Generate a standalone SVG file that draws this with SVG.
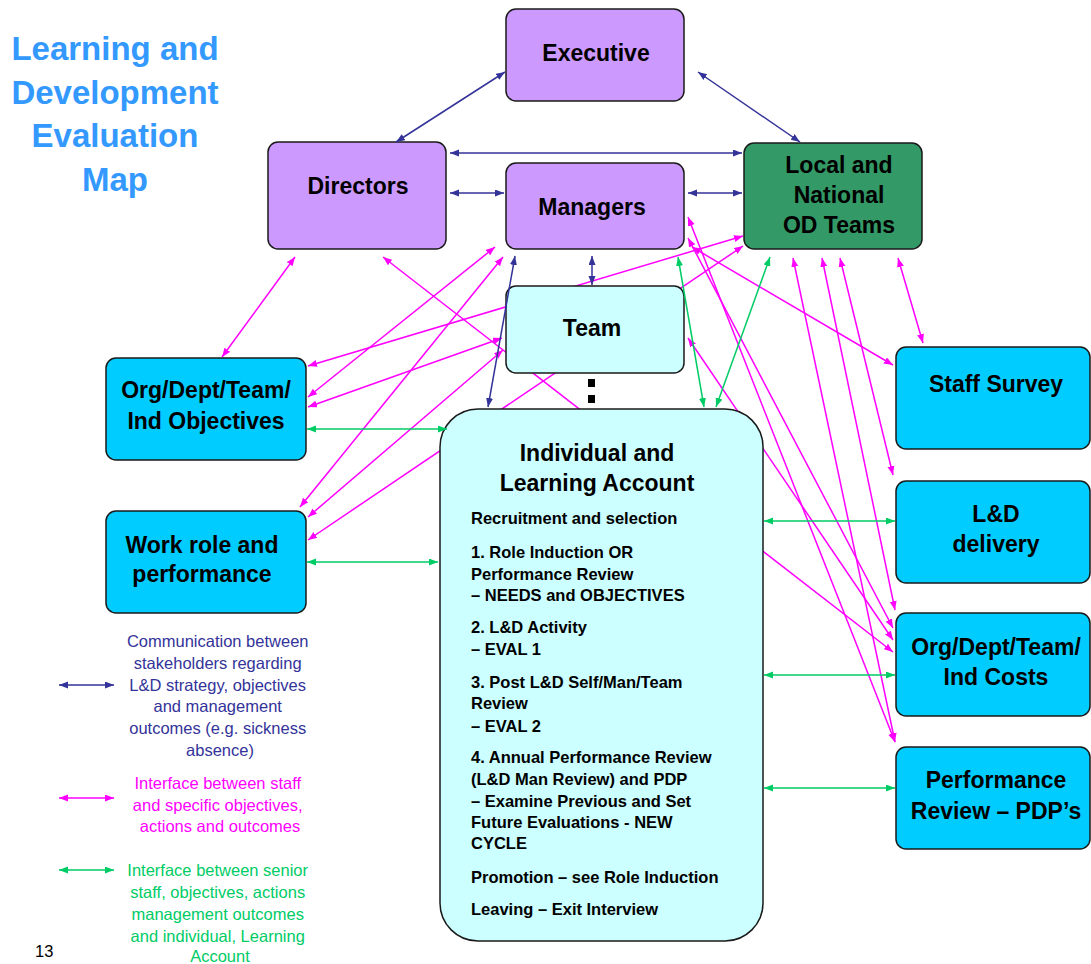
<svg xmlns="http://www.w3.org/2000/svg" width="1091" height="964" viewBox="0 0 1091 964">
  <style>
    .box { stroke: #1a1a1a; stroke-width: 1.5; }
    .lilac { fill: #cc99ff; }
    .od { fill: #339966; }
    .pale { fill: #ccffff; }
    .cyan { fill: #00ccff; }
    .lbl { font-family: "Liberation Sans", Arial, sans-serif; font-weight: bold; font-size: 23px; fill: #000; text-anchor: middle; }
    .body { font-family: "Liberation Sans", Arial, sans-serif; font-weight: bold; font-size: 16.5px; fill: #000; }
    .title { font-family: "Liberation Sans", Arial, sans-serif; font-weight: bold; font-size: 33px; fill: #3399ff; text-anchor: middle; }
    .key { font-family: "Liberation Sans", Arial, sans-serif; font-size: 16.5px; text-anchor: middle; }
    .navy { stroke: #333399; stroke-width: 1.5; fill: none; marker-start: url(#hN); marker-end: url(#hN); }
    .mag { stroke: #ff00ff; stroke-width: 1.5; fill: none; marker-start: url(#hM); marker-end: url(#hM); }
    .grn { stroke: #00cc66; stroke-width: 1.5; fill: none; marker-start: url(#hG); marker-end: url(#hG); }
  </style>
  <defs>
    <marker id="hN" markerUnits="userSpaceOnUse" markerWidth="10" markerHeight="8" refX="9" refY="3.5" orient="auto-start-reverse">
      <path d="M0,0 L9,3.5 L0,7 z" fill="#333399"/>
    </marker>
    <marker id="hM" markerUnits="userSpaceOnUse" markerWidth="10" markerHeight="8" refX="9" refY="3.5" orient="auto-start-reverse">
      <path d="M0,0 L9,3.5 L0,7 z" fill="#ff00ff"/>
    </marker>
    <marker id="hG" markerUnits="userSpaceOnUse" markerWidth="10" markerHeight="8" refX="9" refY="3.5" orient="auto-start-reverse">
      <path d="M0,0 L9,3.5 L0,7 z" fill="#00cc66"/>
    </marker>
  </defs>

  <rect width="1091" height="964" fill="#ffffff"/>

  <!-- Title -->
  <g id="title">
    <text class="title" x="115" y="60">Learning and</text>
    <text class="title" x="115" y="104">Development</text>
    <text class="title" x="115" y="147">Evaluation</text>
    <text class="title" x="115" y="191">Map</text>
  </g>

  <!-- Staff / objective links, running behind the boxes -->
  <g id="connectors-behind">
    <line class="mag" x1="295" y1="257" x2="222" y2="357"/>
    <line class="mag" x1="383" y1="257" x2="893" y2="652"/>
    <line class="mag" x1="308" y1="366" x2="743" y2="236"/>
    <line class="mag" x1="308" y1="397" x2="495" y2="247"/>
    <line class="mag" x1="308" y1="407" x2="502" y2="338"/>
    <line class="mag" x1="300" y1="507" x2="503" y2="257"/>
    <line class="mag" x1="308" y1="517" x2="503" y2="350"/>
    <line class="mag" x1="308" y1="540" x2="743" y2="246"/>
    <line class="mag" x1="688" y1="217" x2="895" y2="742"/>
    <line class="mag" x1="688" y1="238" x2="893" y2="628"/>
    <line class="mag" x1="692" y1="247" x2="893" y2="365"/>
    <line class="mag" x1="688" y1="338" x2="893" y2="640"/>
    <line class="mag" x1="793" y1="258" x2="895" y2="742"/>
    <line class="mag" x1="822" y1="258" x2="895" y2="610"/>
    <line class="mag" x1="840" y1="258" x2="893" y2="475"/>
    <line class="mag" x1="898" y1="258" x2="923" y2="343"/>
  </g>

  <g id="executive">
    <rect class="box lilac" x="506" y="9" width="178" height="92" rx="10"/>
    <text class="lbl" x="596" y="61">Executive</text>
  </g>
  <g id="directors">
    <rect class="box lilac" x="268" y="142" width="178" height="107" rx="10"/>
    <text class="lbl" x="358" y="194">Directors</text>
  </g>
  <g id="managers">
    <rect class="box lilac" x="506" y="163" width="178" height="86" rx="10"/>
    <text class="lbl" x="592" y="215">Managers</text>
  </g>
  <g id="od-teams">
    <rect class="box od" x="744" y="143" width="178" height="106" rx="10"/>
    <text class="lbl" x="839" y="173">Local and</text>
    <text class="lbl" x="839" y="203">National</text>
    <text class="lbl" x="839" y="233">OD Teams</text>
  </g>
  <g id="team">
    <rect class="box pale" x="506" y="286" width="178" height="87" rx="10"/>
    <text class="lbl" x="592" y="336">Team</text>
    <rect x="588" y="379" width="7" height="8" fill="#000"/>
    <rect x="588" y="395" width="7" height="8" fill="#000"/>
  </g>
  <g id="org-objectives">
    <rect class="box cyan" x="106" y="358" width="200" height="102" rx="10"/>
    <text class="lbl" x="206" y="398">Org/Dept/Team/</text>
    <text class="lbl" x="206" y="429">Ind Objectives</text>
  </g>
  <g id="work-role">
    <rect class="box cyan" x="106" y="511" width="200" height="102" rx="10"/>
    <text class="lbl" x="202" y="553">Work role and</text>
    <text class="lbl" x="202" y="582">performance</text>
  </g>
  <g id="individual">
    <rect class="box pale" x="440" y="409" width="323" height="532" rx="38"/>
    <text class="lbl" x="597" y="461">Individual and</text>
    <text class="lbl" x="597" y="491">Learning Account</text>
    <text class="body" x="471" y="524">Recruitment and selection</text>
    <text class="body" x="471" y="558">1. Role Induction OR</text>
    <text class="body" x="471" y="579.5">Performance Review</text>
    <text class="body" x="471" y="601">– NEEDS and OBJECTIVES</text>
    <text class="body" x="471" y="633">2. L&amp;D Activity</text>
    <text class="body" x="471" y="654.5">– EVAL 1</text>
    <text class="body" x="471" y="688">3. Post L&amp;D Self/Man/Team</text>
    <text class="body" x="471" y="709">Review</text>
    <text class="body" x="471" y="731.5">– EVAL 2</text>
    <text class="body" x="471" y="763">4. Annual Performance Review</text>
    <text class="body" x="471" y="785">(L&amp;D Man Review) and PDP</text>
    <text class="body" x="471" y="806.5">– Examine Previous and Set</text>
    <text class="body" x="471" y="828">Future Evaluations - NEW</text>
    <text class="body" x="471" y="849">CYCLE</text>
    <text class="body" x="471" y="883">Promotion – see Role Induction</text>
    <text class="body" x="471" y="915">Leaving – Exit Interview</text>
  </g>
  <g id="staff-survey">
    <rect class="box cyan" x="896" y="347" width="194" height="102" rx="10"/>
    <text class="lbl" x="996" y="392">Staff Survey</text>
  </g>
  <g id="ld-delivery">
    <rect class="box cyan" x="896" y="481" width="194" height="102" rx="10"/>
    <text class="lbl" x="996" y="522">L&amp;D</text>
    <text class="lbl" x="996" y="552">delivery</text>
  </g>
  <g id="costs">
    <rect class="box cyan" x="896" y="613" width="194" height="103" rx="10"/>
    <text class="lbl" x="996" y="655">Org/Dept/Team/</text>
    <text class="lbl" x="996" y="685">Ind Costs</text>
  </g>
  <g id="pdp">
    <rect class="box cyan" x="896" y="747" width="194" height="102" rx="10"/>
    <text class="lbl" x="996" y="788">Performance</text>
    <text class="lbl" x="996" y="819">Review – PDP’s</text>
  </g>

  <!-- Stakeholder communication and senior-staff interfaces -->
  <g id="connectors">
    <line class="navy" x1="505" y1="72" x2="396" y2="142"/>
    <line class="navy" x1="698" y1="72" x2="800" y2="142"/>
    <line class="navy" x1="450" y1="153" x2="742" y2="153"/>
    <line class="navy" x1="450" y1="193" x2="504" y2="193"/>
    <line class="navy" x1="688" y1="193" x2="742" y2="193"/>
    <line class="navy" x1="592" y1="256" x2="592" y2="285"/>
    <line class="navy" x1="515" y1="256" x2="488" y2="407"/>
    <line class="grn" x1="307" y1="429" x2="447" y2="429"/>
    <line class="grn" x1="307" y1="562" x2="438" y2="562"/>
    <line class="grn" x1="764" y1="521" x2="895" y2="521"/>
    <line class="grn" x1="764" y1="675" x2="895" y2="675"/>
    <line class="grn" x1="764" y1="788" x2="895" y2="788"/>
    <line class="grn" x1="678" y1="257" x2="704" y2="407"/>
    <line class="grn" x1="770" y1="257" x2="716" y2="407"/>
  </g>

  <!-- Key -->
  <g id="legend">
    <line class="navy" x1="59" y1="685" x2="114" y2="685"/>
    <text class="key" fill="#333399">
      <tspan x="220" y="647">Communication between</tspan>
      <tspan x="220" y="669">stakeholders regarding</tspan>
      <tspan x="220" y="691">L&amp;D strategy, objectives</tspan>
      <tspan x="220" y="712">and management</tspan>
      <tspan x="220" y="734">outcomes (e.g. sickness</tspan>
      <tspan x="220" y="756">absence)</tspan>
    </text>
    <line class="mag" x1="59" y1="798" x2="114" y2="798"/>
    <text class="key" fill="#ff00ff">
      <tspan x="220" y="789">Interface between staff</tspan>
      <tspan x="220" y="811">and specific objectives,</tspan>
      <tspan x="220" y="832">actions and outcomes</tspan>
    </text>
    <line class="grn" x1="59" y1="870" x2="114" y2="870"/>
    <text class="key" fill="#00cc66">
      <tspan x="220" y="876">Interface between senior</tspan>
      <tspan x="220" y="898">staff, objectives, actions</tspan>
      <tspan x="220" y="920">management outcomes</tspan>
      <tspan x="220" y="942">and individual, Learning</tspan>
      <tspan x="220" y="962">Account</tspan>
    </text>
  </g>

  <text x="35" y="957" font-family="Liberation Sans, Arial, sans-serif" font-size="16.5" fill="#000">13</text>
</svg>
